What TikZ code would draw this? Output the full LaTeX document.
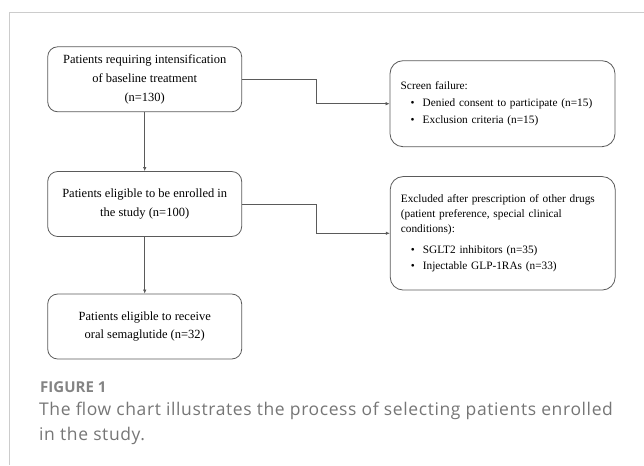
\documentclass[tikz,border=0pt]{standalone}
\usepackage{fontspec}
\setmainfont{Liberation Serif}
\newfontfamily\capfont[LetterSpace=3.5]{Open Sans}
\newfontfamily\labelfont{Open Sans}
\usetikzlibrary{arrows.meta}
\definecolor{boxline}{HTML}{5A5A5A}
\definecolor{capgray}{HTML}{767676}
\definecolor{framegray}{HTML}{CCCCCC}
\newcommand{\bitem}[1]{\hspace*{10pt}\makebox[12pt][l]{\textbullet}#1}

\begin{document}
\begin{tikzpicture}[x=1pt,y=-1pt,
	stagebox/.style={draw=boxline,line width=0.8pt,rounded corners=10pt,minimum width=194pt,minimum height=65pt,inner sep=0pt,align=center,font=\fontsize{12.5}{18.8}\selectfont},
	sidebox/.style={draw=boxline,line width=0.8pt,rounded corners=13pt,text width=203.6pt,inner xsep=10.7pt,inner ysep=0pt,align=left},
	flow/.style={draw=boxline,line width=0.7pt,-{Latex[length=4pt,width=3.5pt]}}]
	\useasboundingbox (0,0) rectangle (644,465);
	\draw[framegray,line width=0.9pt] (9.3,465) -- (9.3,12.3) -- (644,12.3);
		% left column
		\node[stagebox] (patients) at (144.7,79.3) {Patients requiring intensification\\of baseline treatment\\(n=130)};
		\node[stagebox] (eligible) at (144.7,204) {Patients eligible to be enrolled in\\the study (n=100)};
		\node[stagebox] (oral) at (144.7,326.5) {Patients eligible to receive\\oral semaglutide (n=32)};
		% right column
		\node[sidebox,minimum height=86pt,font=\fontsize{11.3}{17}\selectfont] (failure) at (502.5,103.7) {Screen failure:\\\bitem{Denied consent to participate (n=15)}\\\bitem{Exclusion criteria (n=15)}};
		\node[sidebox,minimum height=113.5pt,font=\fontsize{11.3}{15}\selectfont] (excluded) at (502.7,233.3) {Excluded after prescription of other drugs\\(patient preference, special clinical\\conditions):\\[6pt]\bitem{SGLT2 inhibitors (n=35)}\\[1.5pt]\bitem{Injectable GLP-1RAs (n=33)}};
		\draw[flow] (patients.south) -- (eligible.north);
		\draw[flow] (eligible.south) -- (oral.north);
		\draw[flow] (patients.east) -- ++(74.3,0) |- (failure.west);
		\draw[flow] (eligible.east) -- ++(74.3,0) |- (excluded.west);
	% caption
	\node[anchor=base west,inner sep=0pt,text=capgray!90,font=\labelfont\bfseries\fontsize{15}{18}\selectfont] (figlabel) at (40,392.2) {FIGURE 1};
	\node[anchor=base west,inner sep=0pt,text=capgray,align=left,font=\capfont\fontsize{17.5}{25}\selectfont] (figcaption) at (39,440.5) {The flow chart illustrates the process of selecting patients enrolled\\in the study.};
\end{tikzpicture}
\end{document}
